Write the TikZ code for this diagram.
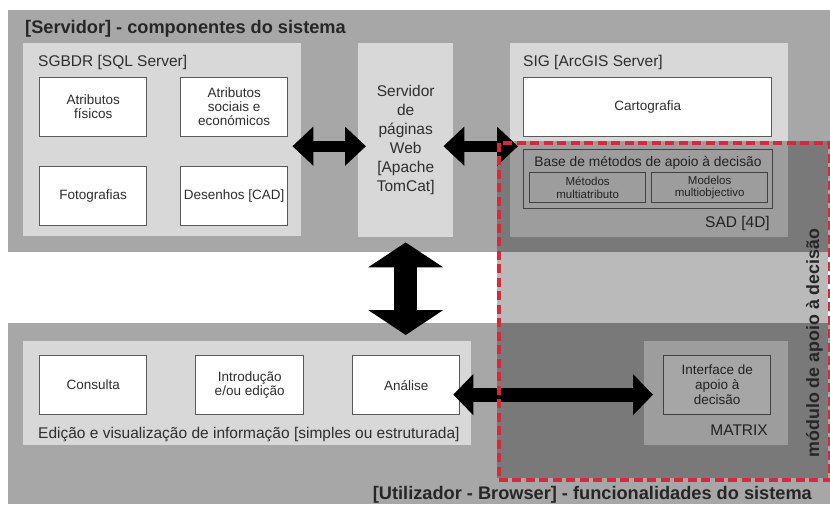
\documentclass[tikz,border=0pt]{standalone}
\usepackage{fontspec}
\setmainfont{Liberation Sans}
\usetikzlibrary{arrows.meta}
\definecolor{outerg}{HTML}{A7A7A7}
\definecolor{innerg}{HTML}{D8D8D8}
\definecolor{bord}{HTML}{5A5A5A}
\definecolor{txt}{HTML}{2E2E2E}
\definecolor{ifc}{HTML}{E4E4E4}
\definecolor{redd}{HTML}{D42A3C}
\begin{document}
\begin{tikzpicture}[x=1pt,y=-1pt,
  outer/.style={fill=outerg, draw=none, inner sep=0pt, anchor=north west},
  inner/.style={fill=innerg, draw=none, inner sep=0pt, anchor=north west},
  wbox/.style={fill=white, draw=bord, line width=1.3pt, inner sep=0pt, anchor=north west,
    align=center, text=txt, font=\fontsize{13.5}{14}\selectfont},
  obox/.style={draw=bord, line width=1.3pt, inner sep=0pt, anchor=north west,
    align=center, text=txt},
  ptitle/.style={text=txt, inner sep=0pt, font=\fontsize{15.5}{18}\selectfont},
  btitle/.style={text=black!85, inner sep=0pt, font=\bfseries\fontsize{18.2}{21}\selectfont},
  bigarrow/.style n args={3}{draw=black, line width=#1,
    arrows={Triangle[length=#2,width=#3]-Triangle[length=#2,width=#3]}}
]
\useasboundingbox (0,0) rectangle (830,504);
\fill[white] (0,0) rectangle (830,504);
% outer panels
\node[outer, minimum width=822pt, minimum height=242pt] (top) at (8,10) {};
\node[outer, minimum width=822pt, minimum height=181pt] (bot) at (8,323) {};
% inner panels
\node[inner, minimum width=278pt, minimum height=193pt] (sgbdr) at (23,43) {};
\node[inner, minimum width=95pt, minimum height=194pt, align=center, text=txt,
  font=\fontsize{15.5}{19}\selectfont] (serv) at (358,43)
  {Servidor\\de\\páginas\\Web\\{[}Apache\\TomCat{]}};
\node[inner, minimum width=278pt, minimum height=194pt] (sig) at (510,43) {};
\node[inner, minimum width=448pt, minimum height=104pt] (edi) at (23,341) {};
\node[inner, minimum width=144pt, minimum height=104pt] (matrix) at (644,341) {};
% titles
\node[btitle, anchor=base west] (t1) at (25,33) {[Servidor] - componentes do sistema};
\node[btitle, anchor=base east] (t2) at (812,499) {[Utilizador - Browser] - funcionalidades do sistema};
\node[ptitle, anchor=base west] (tsg) at (38,66) {SGBDR [SQL Server]};
\node[ptitle, anchor=base west] (tsig) at (523,66) {SIG [ArcGIS Server]};
\node[ptitle, anchor=base east] (tsad) at (770,227) {SAD [4D]};
\node[ptitle, anchor=base east] (tmat) at (768,435) {MATRIX};
\node[ptitle, anchor=base west] (tedi) at (38,438) {Edição e visualização de informação [simples ou estruturada]};
% white boxes
\node[wbox, minimum width=107pt, minimum height=59pt] (af) at (39,77) {Atributos\\físicos};
\node[wbox, minimum width=107pt, minimum height=59pt] (as) at (180,77) {Atributos\\sociais e\\económicos};
\node[wbox, minimum width=107pt, minimum height=59pt] (fo) at (39,166) {Fotografias};
\node[wbox, minimum width=107pt, minimum height=59pt] (de) at (180,166) {Desenhos [CAD]};
\node[wbox, minimum width=248pt, minimum height=59pt] (car) at (523,77) {Cartografia};
\node[wbox, minimum width=107pt, minimum height=59pt] (con) at (39,355) {Consulta};
\node[wbox, minimum width=108pt, minimum height=59pt] (int) at (195,355) {Introdução\\e/ou edição};
\node[wbox, minimum width=107pt, minimum height=59pt] (ana) at (352,355) {Análise};
% SAD boxes
\node[obox, minimum width=249pt, minimum height=59pt] (base) at (523,149) {};
\node[ptitle, anchor=base, font=\fontsize{13.8}{16}\selectfont] (tbase) at (648,166) {Base de métodos de apoio à decisão};
\node[obox, minimum width=116pt, minimum height=30pt, font=\fontsize{11.5}{12.5}\selectfont] (mm) at (529,172) {Métodos\\multiatributo};
\node[obox, minimum width=116pt, minimum height=30pt, font=\fontsize{11.5}{12.5}\selectfont] (mo) at (651,172) {Modelos\\multiobjectivo};
\node[wbox, fill=ifc, minimum width=107pt, minimum height=59pt, font=\fontsize{13.5}{15}\selectfont] (ifa) at (663,355) {Interface de\\apoio à\\decisão};
% overlay of the decision module
\fill[black, fill opacity=0.27] (497,141) rectangle (828,478);
% arrows
\draw[bigarrow={11pt}{21pt}{38pt}, shorten <=-9pt, shorten >=-8pt]
  ([yshift=-6.5pt]sgbdr.east) -- ([yshift=-6pt]serv.west);
\draw[bigarrow={11pt}{21pt}{38pt}, shorten <=-10pt, shorten >=-8pt]
  ([yshift=-6pt]serv.east) -- ([yshift=-6pt]sig.west);
\draw[bigarrow={23pt}{25pt}{74pt}, shorten <=5pt, shorten >=6pt]
  (serv.south) -- (serv.south |- edi.north);
\draw[bigarrow={14pt}{20pt}{40pt}, shorten <=-7pt, shorten >=10pt]
  ([yshift=-9.5pt]ana.east) -- ([yshift=-9.5pt]ifa.west);
% dashed module border
\node[draw=redd, line width=3.5pt, dash pattern=on 9pt off 4.5pt, inner sep=0pt,
  anchor=north west, minimum width=331pt, minimum height=337pt] (mod) at (497,141) {};
\node[btitle, rotate=90, font=\bfseries\fontsize{17.8}{20}\selectfont] (tmod) at (814.5,343) {módulo de apoio à decisão};
\end{tikzpicture}
\end{document}
